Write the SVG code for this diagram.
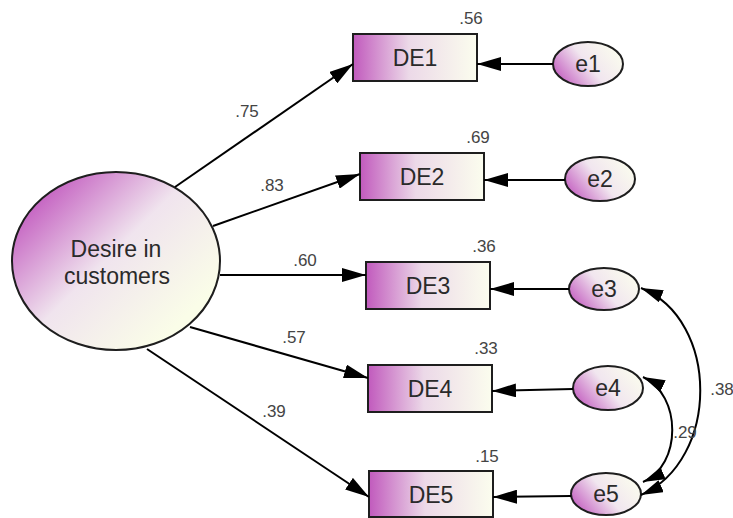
<svg xmlns="http://www.w3.org/2000/svg" width="733" height="518" viewBox="0 0 733 518">
  <defs>
    <linearGradient id="boxFill" x1="0" y1="0" x2="1" y2="0">
      <stop offset="0" stop-color="#c15abd"/>
      <stop offset="0.45" stop-color="#ecd9e8"/>
      <stop offset="1" stop-color="#fbfdee"/>
    </linearGradient>
    <linearGradient id="latentFill" x1="0.05" y1="0.2" x2="0.8" y2="0.85">
      <stop offset="0" stop-color="#c35dc0"/>
      <stop offset="0.5" stop-color="#f0e4ee"/>
      <stop offset="1" stop-color="#fafde8"/>
    </linearGradient>
    <linearGradient id="errFill" x1="0" y1="0.75" x2="1" y2="0.25">
      <stop offset="0" stop-color="#c35dc0"/>
      <stop offset="0.5" stop-color="#f1e6ef"/>
      <stop offset="1" stop-color="#fbfdee"/>
    </linearGradient>
    <marker id="arrow" markerUnits="userSpaceOnUse" markerWidth="24" markerHeight="14" refX="24" refY="7" orient="auto-start-reverse">
      <path d="M0,0 L24,7 L0,14 Z" fill="#000"/>
    </marker>
    <marker id="arrowSmall" markerUnits="userSpaceOnUse" markerWidth="22" markerHeight="13" refX="22" refY="6.5" orient="auto-start-reverse">
      <path d="M0,0 L22,6.5 L0,13 Z" fill="#000"/>
    </marker>
  </defs>
  <style>
    .node { stroke: #1e1e1e; stroke-width: 2; }
    .box { fill: url(#boxFill); }
    .err { fill: url(#errFill); }
    .latent { fill: url(#latentFill); }
    .label { font-family: "Liberation Sans", Arial, sans-serif; font-size: 23px; fill: #2a2a2a; text-anchor: middle; }
    .coef { font-family: "Liberation Sans", Arial, sans-serif; font-size: 17px; fill: #444; text-anchor: middle; }
    .edge { stroke: #000; stroke-width: 2; fill: none; marker-end: url(#arrow); }
    .cov { stroke: #000; stroke-width: 2; fill: none; marker-start: url(#arrowSmall); marker-end: url(#arrowSmall); }
  </style>

  <!-- latent factor -->
  <g id="desire">
    <ellipse class="node latent" cx="116" cy="261" rx="104" ry="89"/>
    <text class="label" x="116" y="257">Desire in</text>
    <text class="label" x="117" y="284">customers</text>
  </g>

  <!-- observed indicators -->
  <g id="DE1">
    <rect class="node box" x="353" y="34" width="124" height="47"/>
    <text class="label" x="415" y="66">DE1</text>
    <text class="coef" x="471" y="24">.56</text>
  </g>
  <g id="DE2">
    <rect class="node box" x="360" y="153" width="124" height="47"/>
    <text class="label" x="422" y="185">DE2</text>
    <text class="coef" x="478" y="143">.69</text>
  </g>
  <g id="DE3">
    <rect class="node box" x="366" y="262" width="124" height="47"/>
    <text class="label" x="428" y="294">DE3</text>
    <text class="coef" x="484" y="252">.36</text>
  </g>
  <g id="DE4">
    <rect class="node box" x="368" y="365" width="124" height="47"/>
    <text class="label" x="430" y="397">DE4</text>
    <text class="coef" x="486" y="354">.33</text>
  </g>
  <g id="DE5">
    <rect class="node box" x="369" y="471" width="124" height="46"/>
    <text class="label" x="431" y="503">DE5</text>
    <text class="coef" x="487" y="462">.15</text>
  </g>

  <!-- error terms -->
  <g id="e1">
    <ellipse class="node err" cx="588" cy="64" rx="35" ry="22"/>
    <text class="label" x="588" y="72">e1</text>
  </g>
  <g id="e2">
    <ellipse class="node err" cx="600" cy="179" rx="35" ry="22"/>
    <text class="label" x="600" y="187">e2</text>
  </g>
  <g id="e3">
    <ellipse class="node err" cx="604" cy="289" rx="35" ry="21"/>
    <text class="label" x="604" y="297">e3</text>
  </g>
  <g id="e4">
    <ellipse class="node err" cx="608" cy="388" rx="35" ry="22"/>
    <text class="label" x="608" y="396">e4</text>
  </g>
  <g id="e5">
    <ellipse class="node err" cx="606" cy="494" rx="35" ry="21"/>
    <text class="label" x="606" y="502">e5</text>
  </g>

  <!-- paths, error links and covariances -->
  <g id="connectors">
    <path class="edge" d="M175,187 L353,64"/>
    <path class="edge" d="M213,226 L360,174"/>
    <path class="edge" d="M220,275 L366,275"/>
    <path class="edge" d="M190,327 L368,378"/>
    <path class="edge" d="M147,349 L369,497"/>

    <path class="edge" d="M553,64 L477,64"/>
    <path class="edge" d="M565,180 L484,180"/>
    <path class="edge" d="M569,289 L490,289"/>
    <path class="edge" d="M573,389 L492,391"/>
    <path class="edge" d="M571,496 L493,497"/>

    <path class="cov" d="M641,288 C720,320 720,460 641,495"/>
    <path class="cov" d="M643,377 C682,395 682,465 643,482"/>

    <text class="coef" x="247" y="117">.75</text>
    <text class="coef" x="272" y="191">.83</text>
    <text class="coef" x="305" y="266">.60</text>
    <text class="coef" x="294" y="343">.57</text>
    <text class="coef" x="274" y="417">.39</text>
    <text class="coef" x="722" y="395">.38</text>
    <text class="coef" x="685" y="438">.29</text>
  </g>
</svg>
